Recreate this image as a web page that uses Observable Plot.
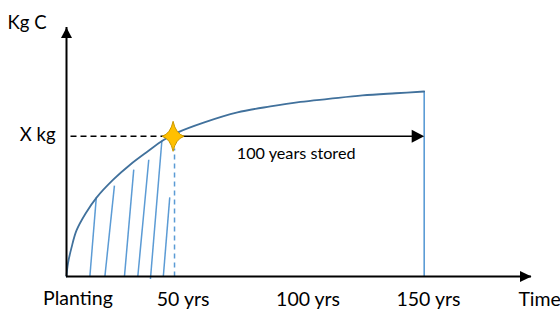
<!DOCTYPE html>
<html>
<head>
<meta charset="utf-8">
<script src="https://cdn.jsdelivr.net/npm/d3@7"></script>
<script src="https://cdn.jsdelivr.net/npm/@observablehq/plot@0.6"></script>
<style>
  html, body { margin: 0; padding: 0; background: #fff; }
  svg { display: block; }
</style>
</head>
<body>
<script>
// ---- data (years, kg C) ----
const curveYears = [0, 0.6, 2.1, 4.2, 8, 12.6, 19.7, 26.8, 34, 40.7, 46.5, 57.5, 71.7, 85.5, 98.1, 109.9, 124.1, 138, 150];
const curveKg    = [0, 5.2, 11.6, 18.5, 25.3, 31.7, 39, 45, 50.2, 54.8, 57.8, 61.8, 65.9, 68.3, 70.1, 71.3, 72.7, 73.6, 74.3];

const hatchYearsBottom = [9.8, 16.1, 24.3, 29.9, 35.2, 40.6];
const hatchYearsTop    = [12.5, 20.1, 28.2, 34.5, 40.0, 43.3];
const hatchKgBottom    = [0, 0, 0, 0, -1, 0];
const hatchKgTop       = [31.8, 36.5, 42.9, 46.9, 54.6, 31.8];

const starYear = 44.7;
const xKg = 56.3;
const harvestYear = 45.3;
const harvestKgTop = 51.4;
const endYear = 150;
const endKg = 74.3;
const storedLabel = "100 years stored";
const storedLabelYear = 96.3;
const storedLabelKg = 47.2;

const tickLabels = ["Planting", "50 yrs", "100 yrs", "150 yrs"];
const tickYears  = [4.8, 48.9, 101.3, 151.8];
const tickKg     = [-11.6, -12.0, -11.8, -11.8];

const xMax = 195;
const yMax = 100;

// ---- derived tables ----
const curve = curveYears.map((t, i) => ({t, v: curveKg[i]}));
const hatch = hatchYearsBottom.map((t, i) => ({t1: t, v1: hatchKgBottom[i], t2: hatchYearsTop[i], v2: hatchKgTop[i]}));
const ticks = tickLabels.map((s, i) => ({s, t: tickYears[i], v: tickKg[i]}));

// ---- custom symbols ----
const arrowUp = {draw(ctx) { ctx.moveTo(0, 0); ctx.lineTo(5.5, 10.5); ctx.lineTo(-5.5, 10.5); ctx.closePath(); }};
const arrowRight = {draw(ctx) { ctx.moveTo(0, 0); ctx.lineTo(-11.5, 5.5); ctx.lineTo(-11.5, -5.5); ctx.closePath(); }};
const arrowRightBig = {draw(ctx) { ctx.moveTo(0, 0); ctx.lineTo(-12.5, 6.5); ctx.lineTo(-12.5, -6.5); ctx.closePath(); }};
const star4 = {draw(ctx) {
  const w = 11, h = 15, c = 2.6;
  ctx.moveTo(0, -h);
  ctx.quadraticCurveTo(c, -c, w, 0);
  ctx.quadraticCurveTo(c, c, 0, h);
  ctx.quadraticCurveTo(-c, c, -w, 0);
  ctx.quadraticCurveTo(-c, -c, 0, -h);
  ctx.closePath();
}};

const darkBlue = "#41719C";
const lightBlue = "#5B9BD5";
const font = "Lato, 'Open Sans', sans-serif";

const chart = Plot.plot({
  width: 560,
  height: 311,
  marginLeft: 66,
  marginRight: 29,
  marginTop: 27,
  marginBottom: 35,
  x: {domain: [0, xMax], axis: null},
  y: {domain: [0, yMax], axis: null},
  style: {fontFamily: font, background: "white", overflow: "visible"},
  marks: [
    // hatch lines
    Plot.link(hatch, {x1: "t1", y1: "v1", x2: "t2", y2: "v2", stroke: lightBlue, strokeWidth: 1.5}),
    // harvest dashed vertical
    Plot.link([0], {x1: harvestYear, y1: 0, x2: harvestYear, y2: harvestKgTop, stroke: lightBlue, strokeWidth: 1.5, strokeDasharray: "5,4"}),
    // end vertical
    Plot.link([0], {x1: endYear, y1: 0, x2: endYear, y2: endKg, stroke: lightBlue, strokeWidth: 1.6}),
    // X kg dashed line
    Plot.link([0], {x1: 0, y1: xKg, x2: starYear, y2: xKg, stroke: "black", strokeWidth: 1.5, strokeDasharray: "6,4", strokeDashoffset: -4}),
    // stored arrow
    Plot.link([0], {x1: starYear, y1: xKg, x2: endYear - 4, y2: xKg, stroke: "black", strokeWidth: 1.6}),
    Plot.dot([0], {x: endYear, y: xKg, symbol: arrowRightBig, r: 5, fill: "black", stroke: "none"}),
    // growth curve
    Plot.line(curve, {x: "t", y: "v", curve: "catmull-rom", stroke: darkBlue, strokeWidth: 1.8}),
    // axes
    Plot.ruleY([0], {stroke: "black", strokeWidth: 2}),
    Plot.ruleX([0], {stroke: "black", strokeWidth: 2}),
    Plot.dot([0], {x: 0, y: yMax, symbol: arrowUp, r: 5, fill: "black", stroke: "none"}),
    Plot.dot([0], {x: xMax, y: 0, symbol: arrowRight, r: 5, fill: "black", stroke: "none"}),
    // star
    Plot.dot([0], {x: starYear, y: xKg, symbol: star4, r: 5, fill: "#FFC000", stroke: "#C99700", strokeWidth: 1}),
    // texts
    Plot.text(ticks, {x: "t", y: "v", text: "s", fontSize: 19.5, lineAnchor: "bottom", textAnchor: "middle", fill: "black"}),
    Plot.text(["Time"], {x: xMax - 5.5, y: -12.0, text: d => d, fontSize: 19.5, lineAnchor: "bottom", textAnchor: "start", fill: "black"}),
    Plot.text(["Kg C"], {x: -24.7, y: 99.4, text: d => d, fontSize: 18.5, lineAnchor: "bottom", textAnchor: "start", fill: "black"}),
    Plot.text(["X kg"], {x: -4.6, y: xKg, dy: -1, text: d => d, fontSize: 18.5, lineAnchor: "middle", textAnchor: "end", fill: "black"}),
    Plot.text([storedLabel], {x: storedLabelYear, y: storedLabelKg, text: d => d, fontSize: 16.2, lineAnchor: "bottom", textAnchor: "middle", fill: "black"})
  ]
});
document.body.appendChild(chart);
</script>
</body>
</html>
